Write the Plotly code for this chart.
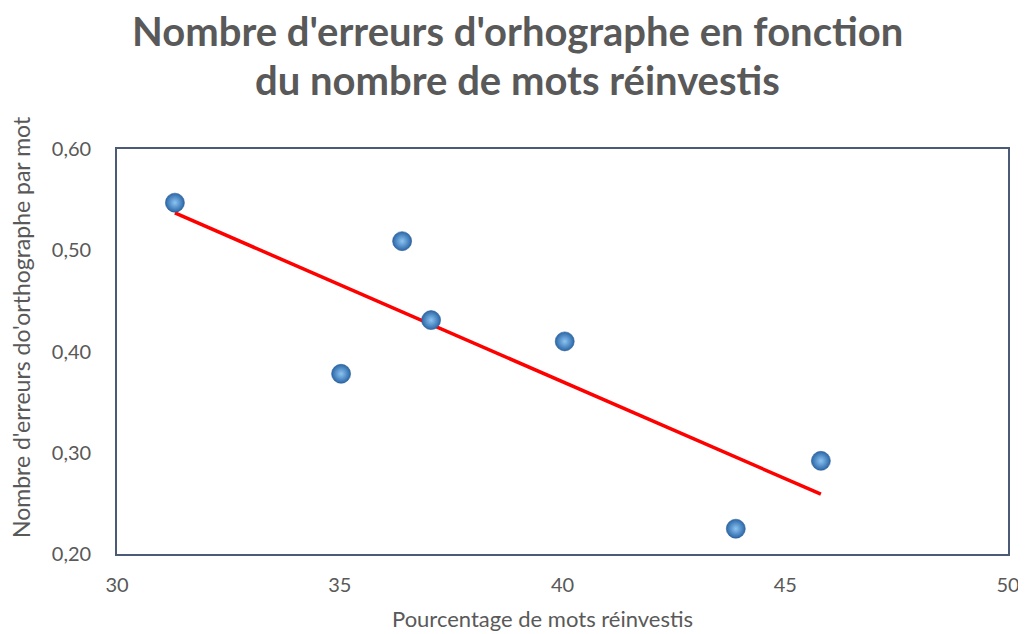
import numpy as np
import plotly.graph_objects as go

# Data
pct_mots = [31.30, 36.40, 37.05, 35.03, 40.05, 45.80, 43.89]
erreurs = [0.547, 0.509, 0.431, 0.378, 0.410, 0.292, 0.225]

x_ticks = [30, 35, 40, 45, 50]
y_ticks = [0.20, 0.30, 0.40, 0.50, 0.60]

title_lines = ["Nombre d'erreurs d'orhographe en fonction", "du nombre de mots réinvestis"]
x_title = "Pourcentage de mots réinvestis"
y_title = "Nombre d'erreurs do'orthographe par mot"

# Linear trendline (least squares) from the data
slope, intercept = np.polyfit(pct_mots, erreurs, 1)
x_line = [min(pct_mots), max(pct_mots)]
y_line = [slope * v + intercept for v in x_line]

grey = "#595959"
frame = "#4B5A76"
font_family = "Lato, 'Open Sans', sans-serif"

fig = go.Figure()
fig.add_trace(go.Scatter(
    x=x_line, y=y_line, mode="lines",
    line=dict(color="#FF0000", width=3.5),
    hoverinfo="skip", showlegend=False,
))
fig.add_trace(go.Scatter(
    x=pct_mots, y=erreurs, mode="markers",
    marker=dict(size=19, color="#2B67A8",
                gradient=dict(type="radial", color="#8CC4F2"),
                line=dict(width=0.6, color="#2A5C94")),
    showlegend=False,
))

annotations = [
    dict(text=title_lines[0], xref="paper", yref="paper", x=0.449, y=1.291,
         xanchor="center", yanchor="middle", showarrow=False,
         font=dict(family=font_family, size=40, color=grey, weight="bold")),
    dict(text=title_lines[1], xref="paper", yref="paper", x=0.449, y=1.170,
         xanchor="center", yanchor="middle", showarrow=False,
         font=dict(family=font_family, size=40, color=grey, weight="bold")),
    dict(text=x_title, xref="paper", yref="paper", x=0.478, y=-0.160,
         xanchor="center", yanchor="middle", showarrow=False,
         font=dict(family=font_family, size=22, color=grey)),
    dict(text=y_title, xref="paper", yref="paper", x=-0.1077, y=0.5605,
         xanchor="center", yanchor="middle", showarrow=False, textangle=-90,
         font=dict(family=font_family, size=23, color=grey)),
]

fig.update_layout(
    width=1018, height=626,
    paper_bgcolor="white", plot_bgcolor="white",
    margin=dict(l=109, r=18, t=141, b=80),
    separators=", ",
    font=dict(family=font_family, color=grey, size=20),
    annotations=annotations,
    xaxis=dict(range=[30, 50], tickvals=x_ticks, showgrid=False, zeroline=False,
               showline=True, linecolor=frame, linewidth=1.6, mirror=True,
               ticks="", ticklabelstandoff=12, automargin=False,
               tickfont=dict(size=20, color=grey)),
    yaxis=dict(range=[0.2, 0.6], tickvals=y_ticks, tickformat=".2f", showgrid=False,
               zeroline=False, showline=True, linecolor=frame, linewidth=1.6,
               mirror=True, ticks="", ticklabelstandoff=20, automargin=False,
               tickfont=dict(size=20, color=grey)),
)

fig.write_html("out.html")
